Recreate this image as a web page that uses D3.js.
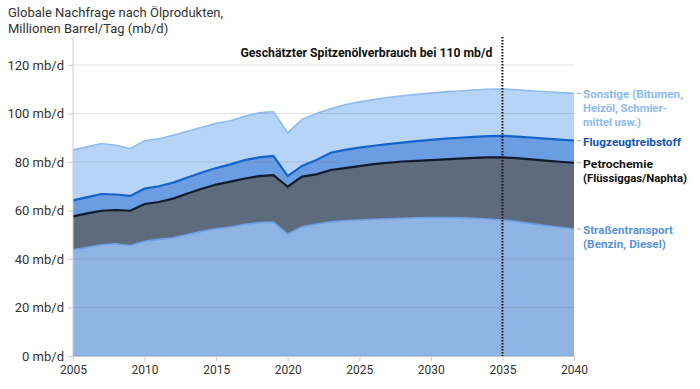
<!DOCTYPE html>
<html><head><meta charset="utf-8">
<script src="https://cdn.jsdelivr.net/npm/d3@7"></script>
<style>
html,body{margin:0;padding:0;background:#fff;}
svg{display:block;font-family:Roboto,"Noto Sans",sans-serif;}
</style></head>
<body><svg id="c" width="700" height="389"></svg>
<script>
const years = d3.range(2005, 2041);
const roadValues = [43.8,44.8,45.9,46.3,45.6,47.3,48.1,48.7,50.1,51.4,52.5,53.2,54.3,55.0,55.2,50.3,53.3,54.4,55.3,55.8,56.1,56.4,56.6,56.8,57.0,57.1,57.1,57.0,56.8,56.5,56.1,55.4,54.6,53.8,53.1,52.4];
const petroValues = [13.8,14.0,14.0,13.9,14.3,15.4,15.4,16.2,16.9,17.6,18.2,18.7,18.9,19.2,19.4,19.5,20.7,20.5,21.4,21.7,22.2,22.7,23.1,23.4,23.5,23.7,24.0,24.4,24.9,25.4,25.8,26.2,26.5,26.8,27.0,27.3];
const jetValues = [6.6,6.7,6.9,6.4,6.1,6.3,6.5,6.6,6.6,6.7,6.8,7.1,7.6,7.7,7.9,4.4,4.4,5.9,7.1,7.5,7.6,7.6,7.7,7.8,8.1,8.3,8.5,8.6,8.7,8.8,8.9,8.9,9.0,9.0,9.1,9.1];
const otherValues = [20.8,20.8,20.8,20.3,19.5,19.8,19.6,19.5,19.1,18.6,18.5,18.0,18.1,18.4,18.3,17.8,19.2,19.2,18.2,18.6,18.9,19.1,19.2,19.3,19.3,19.3,19.3,19.3,19.3,19.3,19.3,19.3,19.3,19.4,19.4,19.5];
const seriesKeys = ["road","petro","jet","other"];
const seriesLabels = [
  ["Straßentransport","(Benzin, Diesel)"],
  ["Petrochemie","(Flüssiggas/Naphta)"],
  ["Flugzeugtreibstoff"],
  ["Sonstige (Bitumen,","Heizöl, Schmier-","mittel usw.)"]
];
const yTicks = [0,20,40,60,80,100,120];
const xTicks = [2005,2010,2015,2020,2025,2030,2035,2040];
const peakYear = 2035;
const titleLines = ["Globale Nachfrage nach Ölprodukten,","Millionen Barrel/Tag (mb/d)"];
const annotation = "Geschätzter Spitzenölverbrauch bei 110 mb/d";

const fills = {road:"#8fb4e3", petro:"#5e6b7c", jet:"#6b9de2", other:"#b5d4f6"};
const lines = {road:"#6fa0e4", petro:"#0f1a2c", jet:"#1463c8", other:"#8ebbee"};
const labelColors = {road:"#5b93dc", petro:"#111111", jet:"#1356b8", other:"#8dbaee"};
const labelWidths = {road:[90,83], petro:[70,104], jet:[98], other:[100,84,58]};

const table = years.map((y,i)=>({year:y, road:roadValues[i], petro:petroValues[i], jet:jetValues[i], other:otherValues[i]}));
const stacked = d3.stack().keys(seriesKeys)(table);

const svg = d3.select("#c");
const x = d3.scaleLinear().domain([2005,2040]).range([73,574]);
const y = d3.scaleLinear().domain([0,120]).range([356,65]);

// title
svg.append("g").selectAll("text").data(titleLines).join("text")
  .attr("x",8).attr("y",(d,i)=>17+i*16).attr("font-size",13).attr("fill","#333").text(d=>d);

// areas
const area = d3.area().x(d=>x(d.data.year)).y0(d=>y(d[0])).y1(d=>y(d[1])).curve(d3.curveLinear);
const line = d3.line().x(d=>x(d.data.year)).y(d=>y(d[1]));
svg.append("g").selectAll("path").data(stacked).join("path")
  .attr("d",area).attr("fill",d=>fills[d.key]);

// grid
svg.append("g").selectAll("line").data(yTicks).join("line")
  .attr("x1",x(2005)).attr("x2",x(2040)).attr("y1",d=>y(d)).attr("y2",d=>y(d))
  .attr("stroke","rgba(120,120,120,0.22)").attr("stroke-width",1);

// top lines
svg.append("g").selectAll("path").data(stacked).join("path")
  .attr("d",line).attr("fill","none").attr("stroke",d=>lines[d.key])
  .attr("stroke-width",d=>d.key==="other"||d.key==="road"?1.6:2.2);

// y axis
const yAxis = d3.axisLeft(y).tickValues(yTicks).tickSize(5).tickPadding(4).tickFormat(d=>d+" mb/d");
const ya = svg.append("g").attr("transform",`translate(${x(2005)},0)`).call(yAxis);
ya.select(".domain").remove();
ya.append("line").attr("x1",0).attr("x2",0).attr("y1",y(131.5)).attr("y2",y(0)).attr("stroke","#ccc");
ya.selectAll(".tick line").attr("stroke","#ccc");
ya.selectAll(".tick text").attr("font-size",13).attr("fill","#333").attr("font-family","Roboto");

// x axis
const xAxis = d3.axisBottom(x).tickValues(xTicks).tickSize(5).tickPadding(4).tickFormat(d3.format("d"));
const xa = svg.append("g").attr("transform",`translate(0,${y(0)})`).call(xAxis);
xa.select(".domain").attr("stroke","#ccc");
xa.selectAll(".tick line").attr("stroke","#ccc");
xa.selectAll(".tick text").attr("font-size",13).attr("fill","#333").attr("font-family","Roboto")
  .attr("textLength",27).attr("lengthAdjust","spacingAndGlyphs");

// peak line
svg.append("line").attr("x1",x(peakYear)).attr("x2",x(peakYear)).attr("y1",y(131.5)).attr("y2",y(0))
  .attr("stroke","#111").attr("stroke-width",2).attr("stroke-dasharray","1.5,1.5");
svg.append("text").attr("x",x(peakYear)-10).attr("y",57).attr("text-anchor","end")
  .attr("font-size",13).attr("font-weight","bold").attr("fill","#111")
  .attr("textLength",252).attr("lengthAdjust","spacingAndGlyphs").text(annotation);

// right labels
const last = table.length-1;
const lab = svg.append("g");
stacked.forEach((s,si)=>{
  const key = s.key;
  const yy = y(s[last][1]);
  lab.append("line").attr("x1",577).attr("x2",581).attr("y1",yy).attr("y2",yy).attr("stroke","#aaa");
  seriesLabels[si].forEach((t,li)=>{
    lab.append("text").attr("x",583).attr("y",yy+5+li*14)
      .attr("font-size",11.5).attr("font-weight","bold").attr("fill",labelColors[key])
      .attr("textLength",labelWidths[key][li]).attr("lengthAdjust","spacingAndGlyphs").text(t);
  });
});
</script></body></html>
